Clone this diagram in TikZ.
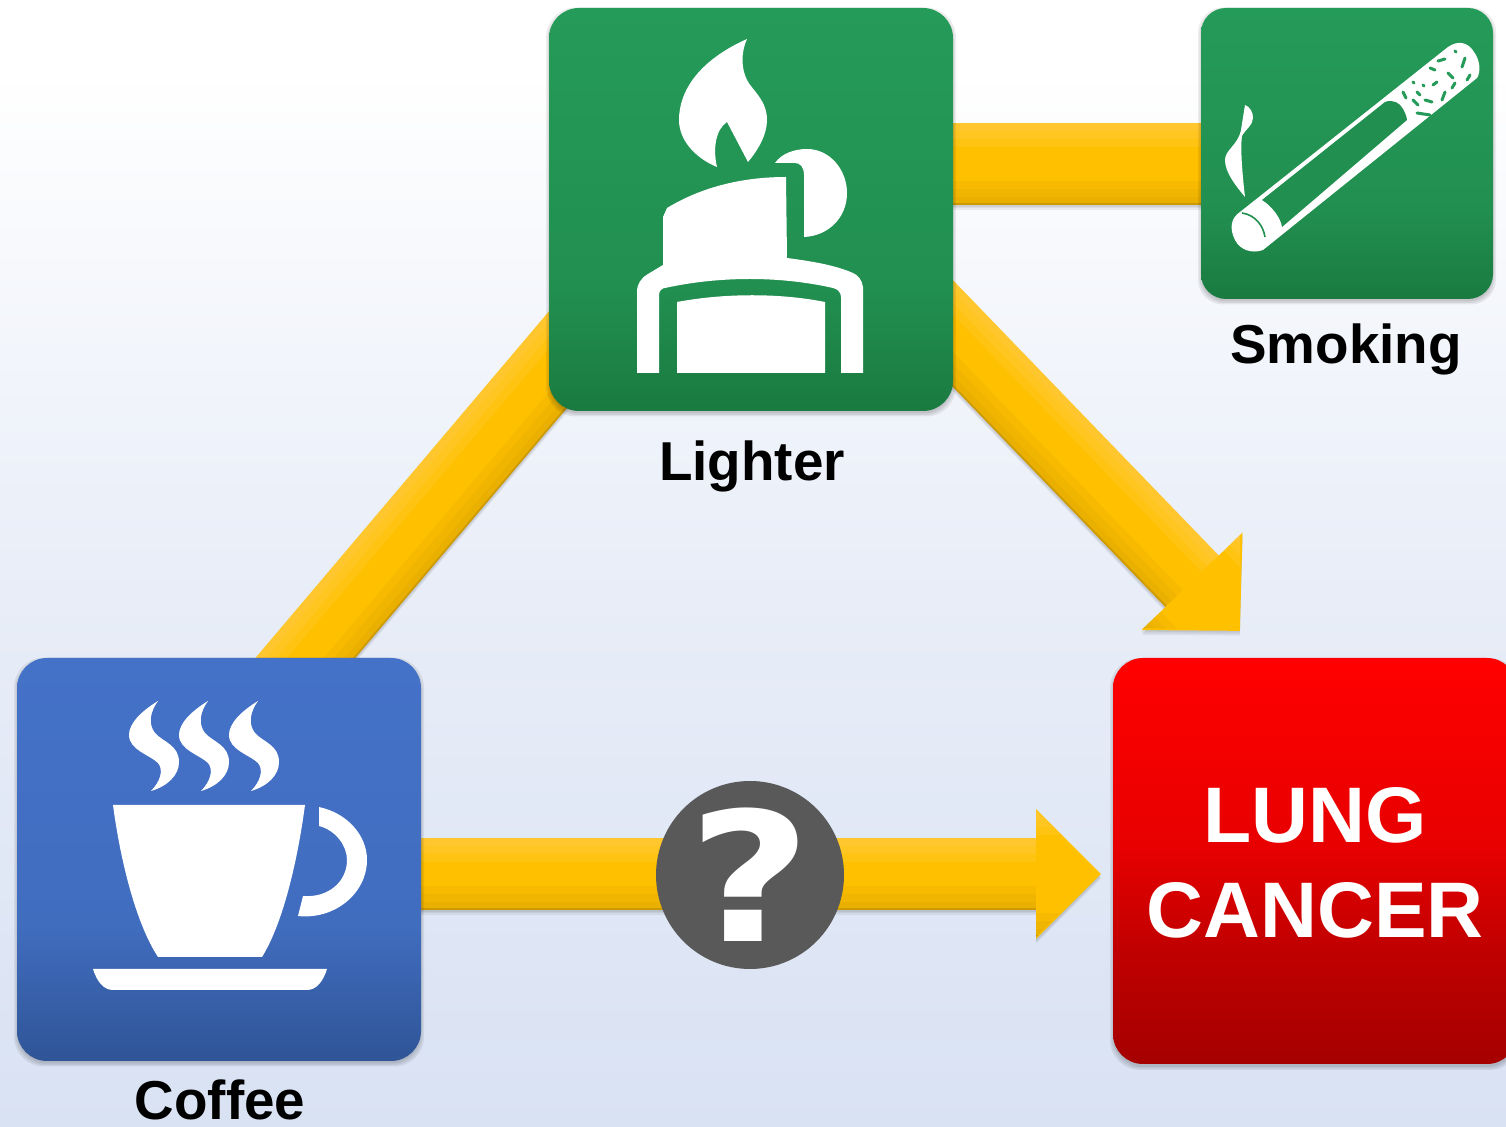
\documentclass[tikz,border=0pt]{standalone}
\usepackage{graphicx}
\usepackage{fontspec}
\setmainfont{Liberation Sans}
\newfontfamily\qfont{DejaVu Sans}
\usetikzlibrary{arrows.meta}
\definecolor{bgA}{HTML}{FFFFFF}
\definecolor{bgB}{HTML}{E9EEF8}
\definecolor{bgC}{HTML}{D9E2F3}
\definecolor{grA}{HTML}{259B59}
\definecolor{grB}{HTML}{218F50}
\definecolor{grC}{HTML}{1A7A40}
\definecolor{blA}{HTML}{4472C8}
\definecolor{blB}{HTML}{416DBF}
\definecolor{blC}{HTML}{2F5597}
\definecolor{rdA}{HTML}{FF0000}
\definecolor{rdB}{HTML}{E80000}
\definecolor{rdD}{HTML}{C00000}
\definecolor{rdC}{HTML}{A50000}
\definecolor{amber}{HTML}{FFC000}
\definecolor{amberLight}{HTML}{FFD05A}
\definecolor{amberDark}{HTML}{B88A00}
\definecolor{qgrey}{HTML}{595959}
\pgfdeclareverticalshading{bgshade}{100bp}{color(0bp)=(bgC); color(25bp)=(bgC); color(50bp)=(bgB); color(72bp)=(bgA); color(100bp)=(bgA)}
\pgfdeclareverticalshading{grshade}{100bp}{color(0bp)=(grC); color(25bp)=(grC); color(40bp)=(grB); color(75bp)=(grA); color(100bp)=(grA)}
\pgfdeclareverticalshading{blshade}{100bp}{color(0bp)=(blC); color(25bp)=(blC); color(42bp)=(blB); color(75bp)=(blA); color(100bp)=(blA)}
\pgfdeclareverticalshading{rdshade}{100bp}{color(0bp)=(rdC); color(25bp)=(rdC); color(39bp)=(rdD); color(52bp)=(rdB); color(75bp)=(rdA); color(100bp)=(rdA)}
\tikzset{
  tileshadow/.style={rectangle,rounded corners=15pt,fill=black,opacity=0.07,inner sep=0pt},
  flow/.style={draw=amber},
  flowshadow/.style={draw=black,opacity=0.06},
  glyph/.style={fill=white,draw=none},
  speck/.style={draw=grA,line width=1.5pt,line cap=round},
  caption/.style={font=\bfseries\fontsize{27.4}{32}\selectfont,text=black,inner sep=0pt},
  bigtile/.style={rectangle,rounded corners=15pt,inner sep=0pt},
}
% #1,#2 ends of the band, #3,#4 unit normal towards its lit side (in pt, y up), #5 width in pt
\newcommand{\bandtint}[5]{%
  \foreach \w/\op in {4/0.22,8/0.22,12/0.2}{%
    \pgfmathsetmacro{\ox}{#3*(#5/2-\w/2)}%
    \pgfmathsetmacro{\oy}{#4*(#5/2-\w/2)}%
    \draw[draw=amberLight,opacity=\op,line width=\w pt,transform canvas={shift={(\ox pt,\oy pt)}}] (#1) -- (#2);
    \pgfmathsetmacro{\ox}{-#3*(#5/2-\w/2)}%
    \pgfmathsetmacro{\oy}{-#4*(#5/2-\w/2)}%
    \draw[draw=amberDark,opacity=0.10,line width=\w pt,transform canvas={shift={(\ox pt,\oy pt)}}] (#1) -- (#2);
  }%
  \pgfmathsetmacro{\ox}{-#3*(#5/2-0.4)}%
  \pgfmathsetmacro{\oy}{-#4*(#5/2-0.4)}%
  \draw[draw=amberDark,opacity=0.6,line width=0.8pt,transform canvas={shift={(\ox pt,\oy pt)}}] (#1) -- (#2);
}
\begin{document}
\begin{tikzpicture}[x=0.5pt,y=-0.5pt]
\useasboundingbox (0,0) rectangle (1506,1127);
\clip (0,0) rectangle (1506,1127);
\shade[shading=bgshade] (0,0) rectangle (1506,1127);

% anchors of the thick connectors
\coordinate (cLs) at (940,164);
\coordinate (cSs) at (1210,164);
\coordinate (cCl) at (263,708);
\coordinate (cLc) at (600,310);
\coordinate (cLr) at (880,258);
\coordinate (cRb) at (1192,581);
\coordinate (cRl) at (1240,631);
\coordinate (cCq) at (410,874);
\coordinate (cRh) at (1036,874);
\coordinate (cRc) at (1101,874);

% connector shadows
\foreach \sh in {0.8,1.6,2.4}{
  \draw[flowshadow,line width=41pt,transform canvas={yshift=-\sh pt}] (cLs) -- (cSs);
  \draw[flowshadow,line width=36pt,transform canvas={yshift=-\sh pt},-{Triangle[width=63pt,length=32.5pt]}] (cCq) -- (cRc);
  \draw[flowshadow,line width=37pt,transform canvas={yshift=-\sh pt},-{Triangle[width=68pt,length=34.5pt]}] (cLr) -- (cRl);
  \draw[flowshadow,line width=38pt,transform canvas={yshift=-\sh pt}] (cCl) -- (cLc);
}

% connectors
\draw[flow,line width=41pt] (cLs) -- (cSs);
\draw[flow,line width=38pt] (cCl) -- (cLc);
\draw[flow,line width=37pt,-{Triangle[width=68pt,length=34.5pt]}] (cLr) -- (cRl);
\draw[flow,line width=36pt,-{Triangle[width=63pt,length=32.5pt]}] (cCq) -- (cRc);
\bandtint{cLs}{cSs}{0}{1}{41}
\bandtint{cCl}{cLc}{-0.764}{0.646}{38}
\bandtint{cLr}{cRb}{0.72}{0.695}{37}
\bandtint{cCq}{cRh}{0}{1}{36}
\begin{scope}
  \clip (1036,811) -- (1101,874) -- (1036,937) -- cycle;
  \bandtint{cRh}{cRc}{0}{1}{63}
\end{scope}
\begin{scope}
  \clip (1240,534) -- (1240,631) -- (1143,628) -- cycle;
  \bandtint{cRb}{cRl}{0.72}{0.695}{68}
\end{scope}

% tile shadows
\foreach \ex in {0,1.5,3}{
  \node[tileshadow,minimum width=202pt+\ex pt,minimum height=201.5pt+\ex pt] at (751,212) {};
  \node[tileshadow,rounded corners=12.5pt,minimum width=146pt+\ex pt,minimum height=145.5pt+\ex pt] at (1347,156) {};
  \node[tileshadow,minimum width=202pt+\ex pt,minimum height=201.5pt+\ex pt] at (219,862) {};
  \node[tileshadow,minimum width=202pt+\ex pt,minimum height=203pt+\ex pt] at (1315,864) {};
}

% tiles
\node[bigtile,shading=grshade,minimum width=202pt,minimum height=201.5pt] (lighter) at (751,209.5) {};
\node[bigtile,rounded corners=12.5pt,shading=grshade,minimum width=146pt,minimum height=145.5pt] (smoking) at (1347,153.5) {};
\node[bigtile,shading=blshade,minimum width=202pt,minimum height=201.5pt] (coffee) at (219,859.5) {};
\node[bigtile,shading=rdshade,minimum width=202pt,minimum height=203pt] (cancer) at (1315,861) {};
\node[inner sep=0pt,align=center,text=white,font=\bfseries\fontsize{39.4}{47.5}\selectfont] (tCancer) at (1315,863) {LUNG\\CANCER};

% captions
\node[caption] (tLighter) at (752,466) {Lighter};
\node[caption] (tSmoking) at (1346,349) {Smoking};
\node[caption] (tCoffee) at (220,1100) {Coffee};

% question mark
\node[circle,fill=qgrey,minimum size=94pt,inner sep=0pt,text=white,font=\qfont\bfseries\fontsize{90}{90}\selectfont] (query) at (750,875) {\scalebox{1.18}[1]{?}};

% lighter icon
\fill[glyph] (747,39) .. controls (700,60) and (679,90) .. (679,120) .. controls (679,140) and (695,158) .. (717,167) .. controls (713,150) and (715,130) .. (727,122) -- (748,162) .. controls (758,150) and (767,135) .. (767,120) .. controls (767,100) and (752,90) .. (747,80) .. controls (741,68) and (741,52) .. (747,39) -- cycle;
\fill[glyph] (775,163) .. controls (782,153) and (795,149) .. (807,149) .. controls (830,149) and (847,170) .. (847,193) .. controls (847,218) and (828,236) .. (804,237) -- (804,175) .. controls (804,167) and (800,163) .. (795,163) -- cycle;
\fill[glyph] (786,177) .. controls (740,177) and (700,188) .. (667,208) -- (663,217) -- (663,265) -- (648,274) .. controls (641,278) and (637,284) .. (637,292) -- (637,373) -- (659,373) -- (659,295) .. controls (659,291) and (662,288) .. (665,288) .. controls (720,276) and (780,276) .. (833,288) .. controls (838,289) and (841,293) .. (841,297) -- (841,373) -- (863,373) -- (863,287) .. controls (862,280) and (858,275) .. (853,273) .. controls (835,265) and (810,261) .. (787,258) -- cycle;
\fill[glyph] (677,302) .. controls (725,293) and (780,293) .. (825,302) -- (825,373) -- (677,373) -- cycle;

% cigarette icon
\fill[glyph] (1245,105) .. controls (1250,107) and (1253,112) .. (1253,118) .. controls (1253,125) and (1245,130) .. (1242,136) .. controls (1240,150) and (1243,180) .. (1245,197) .. controls (1235,185) and (1225,172) .. (1225,160) .. controls (1225,150) and (1238,145) .. (1241,130) -- cycle;
\fill[glyph] (1240,212) -- (1448,47) .. controls (1458,40) and (1468,42) .. (1474,52) .. controls (1480,60) and (1481,72) .. (1477,78) -- (1263,250) .. controls (1252,254) and (1240,250) .. (1235,240) .. controls (1229,228) and (1231,218) .. (1240,212) -- cycle;
\fill[grB] (1262,200) -- (1385,102) .. controls (1393,99) and (1400,103) .. (1403,109) .. controls (1406,114) and (1407,119) .. (1407,120) -- (1282,227) .. controls (1281,218) and (1272,206) .. (1262,200) -- cycle;
\draw[grB,line width=0.8pt] (1242,213) .. controls (1255,215) and (1263,225) .. (1265,237);
\foreach \ax/\ay/\bx/\by in {1455/51/1456/52, 1438/61/1445/59, 1462/67/1465/58, 1430/68/1435/70, 1448/73/1453/78, 1470/75/1467/80, 1413/82/1414/83, 1423/85/1424/86, 1437/82/1433/85, 1452/88/1455/83, 1403/92/1406/98, 1417/92/1420/95, 1442/100/1445/92, 1425/100/1432/102, 1413/100/1418/105, 1417/113/1430/115}{
  \draw[speck] (\ax,\ay) -- (\bx,\by);
}

% coffee icon
\foreach \s in {0,50,100}{
  \fill[glyph,shift={(\s,0)}] (158,701) .. controls (140,712) and (129,724) .. (129,735) .. controls (129,750) and (150,755) .. (158,763) .. controls (164,770) and (160,782) .. (151,791) .. controls (168,786) and (179,775) .. (179,762) .. controls (179,745) and (163,742) .. (155,733) .. controls (148,724) and (150,712) .. (158,701) -- cycle;
}
\fill[glyph] (113,805) -- (305,805) .. controls (297,865) and (282,925) .. (262,957) -- (158,957) .. controls (137,925) and (121,865) .. (113,805) -- cycle;
\fill[glyph] (319,807) .. controls (347,813) and (367,835) .. (367,860) .. controls (367,893) and (335,920) .. (298,916) -- (303,896) .. controls (328,898) and (347,882) .. (347,860) .. controls (347,845) and (335,830) .. (319,826) -- cycle;
\fill[glyph] (93,969) -- (327,969) .. controls (323,982) and (316,990) .. (307,990) -- (113,990) .. controls (104,990) and (97,982) .. (93,969) -- cycle;
\end{tikzpicture}
\end{document}
